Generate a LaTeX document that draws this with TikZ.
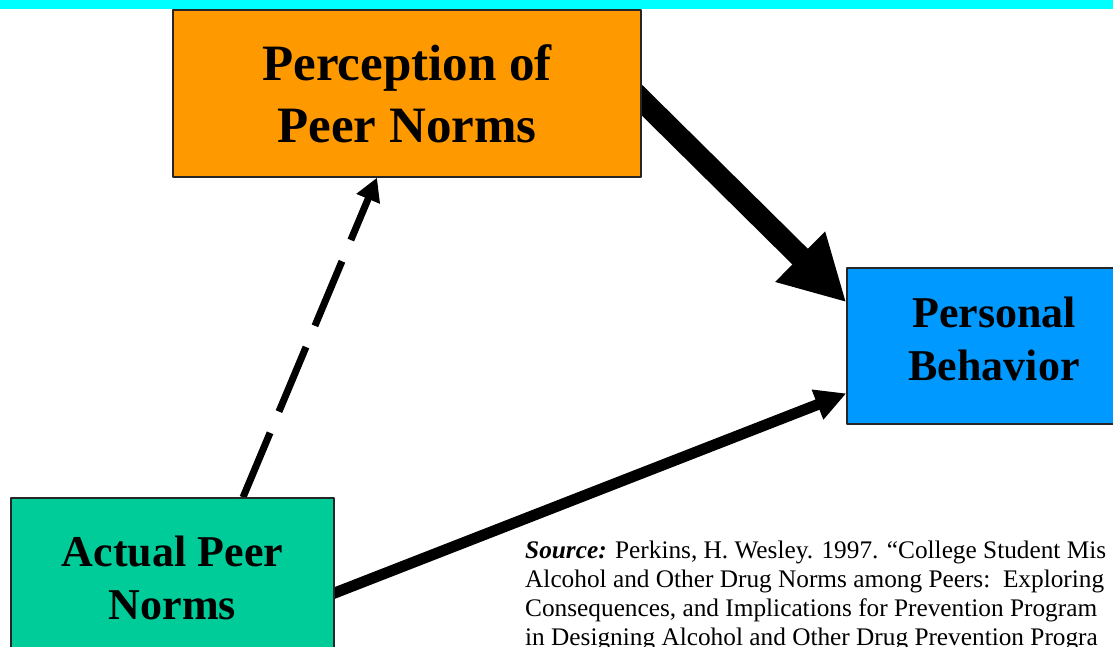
\documentclass[tikz,border=0pt]{standalone}
\usepackage{fontspec}
\setmainfont{Liberation Serif}
\usetikzlibrary{arrows.meta,backgrounds}
\definecolor{barcyan}{HTML}{00FFFF}
\definecolor{percorange}{HTML}{FF9900}
\definecolor{behavblue}{HTML}{0099FF}
\definecolor{actgreen}{HTML}{00CC99}
\begin{document}
\begin{tikzpicture}[x=1pt,y=-1pt,line join=round,
	box/.style={draw=black!85,line width=1.3pt,align=center,inner sep=0pt},
	bigfont/.style={font=\fontsize{51}{62}\selectfont\bfseries},
	midfont/.style={font=\fontsize{44}{53}\selectfont\bfseries}]
	\useasboundingbox (0,0) rectangle (1113,646);
	\begin{scope}
		\clip (0,0) rectangle (1113,646);
		\fill[barcyan] (0,0) rectangle (1113,8.5);
		\node[box,bigfont,fill=percorange,minimum width=468pt,minimum height=167pt] (perc) at (407,93.5) {Perception of\\Peer Norms};
		\node[box,midfont,fill=behavblue,minimum width=294pt,minimum height=156pt,text depth=15pt] (behav) at (994,346) {Personal\\Behavior};
		\node[box,midfont,fill=actgreen,minimum width=323pt,minimum height=159pt] (act) at (172.5,577.5) {Actual Peer\\Norms};
		\node[anchor=north west,align=left,inner sep=0pt,font=\fontsize{25.3}{29}\selectfont] (src) at (525,540.5)
		{\textbf{\textit{Source:}} Perkins, H. Wesley. 1997. “College Student Mis\\
			Alcohol and Other Drug Norms among Peers:\ \ Exploring\\
			Consequences, and Implications for Prevention Program\\
			in Designing Alcohol and Other Drug Prevention Progra};
	\end{scope}
	\begin{pgfonlayer}{background}
		% arrows sit behind the boxes
		\draw[line width=22pt,-{Triangle[length=65pt,width=66pt]}] ([xshift=-10pt,yshift=3.5pt]perc.east) -- ([yshift=-35pt]behav.north west);
		\draw[line width=11pt,-{Triangle[length=31pt,width=30pt]}] ([xshift=-8pt,yshift=-18.6pt]act.east) -- ([yshift=-126pt]behav.north west);
		\draw[line width=7pt,dash pattern=on 70pt off 23pt,-{Triangle[length=23pt,width=24pt]}] ([xshift=70.5pt]act.north) -- ([xshift=-30pt]perc.south);
	\end{pgfonlayer}
\end{tikzpicture}
\end{document}
